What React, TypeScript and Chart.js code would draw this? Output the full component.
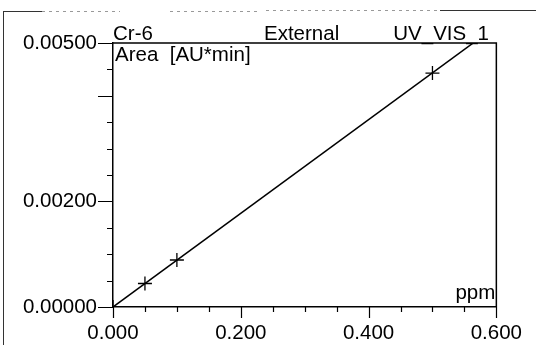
import React, { useEffect, useRef } from "react";
import { Chart, registerables } from "chart.js";

Chart.register(...registerables);

// Data
const concentrations = [0, 0.05, 0.1, 0.5]; // ppm
const areas = [0, 0.000445, 0.00089, 0.00443]; // AU*min
const fitSlope = 0.00887; // calibration line through origin
const fitX = [0, 0.6];

const xLabelValues = [0, 0.2, 0.4, 0.6];
const yLabelValues = [0, 0.002, 0.005];
const xLongTicks = [0, 0.2, 0.4, 0.6];
const yLongTicks = [0, 0.002, 0.004, 0.005];

const titleLeft = "Cr-6";
const titleMid = "External";
const titleRight = "UV_VIS_1";
const yTitle = "Area  [AU*min]";
const xTitle = "ppm";

const FONT = '"Liberation Sans", Arial, sans-serif';
const FSIZE = 20.5;

const near = (a: number, list: number[]) => list.some((v) => Math.abs(v - a) < 1e-9);

const decorPlugin = {
  id: "decor",
  afterDraw(chart: any) {
    const ctx = chart.ctx;
    const { left, right, top, bottom } = chart.chartArea;
    const xs = chart.scales.x;
    const ys = chart.scales.y;
    ctx.save();
    ctx.strokeStyle = "#000";
    ctx.lineWidth = 1.5;
    // plot box top & right
    ctx.beginPath();
    ctx.moveTo(left, top);
    ctx.lineTo(right, top);
    ctx.lineTo(right, bottom);
    ctx.stroke();
    // ticks
    ctx.lineWidth = 1.2;
    ctx.beginPath();
    xs.ticks.forEach((t: any) => {
      const px = Math.round(xs.getPixelForValue(t.value)) + 0.5;
      const len = near(t.value, xLongTicks) ? 11 : 5;
      ctx.moveTo(px, bottom);
      ctx.lineTo(px, bottom + len);
    });
    ys.ticks.forEach((t: any) => {
      const py = Math.round(ys.getPixelForValue(t.value)) + 0.5;
      const len = near(t.value, yLongTicks) ? 15 : 6;
      ctx.moveTo(left, py);
      ctx.lineTo(left - len, py);
    });
    ctx.stroke();
    // outer scan frame
    ctx.strokeStyle = "#333";
    ctx.lineWidth = 1;
    ctx.beginPath();
    ctx.moveTo(3.5, 12);
    ctx.lineTo(3.5, 345);
    ctx.moveTo(3, 11.5);
    ctx.lineTo(42, 11.5);
    ctx.moveTo(440, 10.5);
    ctx.lineTo(536, 10.5);
    ctx.stroke();
    ctx.strokeStyle = "#999";
    ctx.setLineDash([3, 4]);
    ctx.beginPath();
    ctx.moveTo(42, 11.5);
    ctx.lineTo(120, 11.5);
    ctx.moveTo(170, 11.5);
    ctx.lineTo(260, 11.5);
    ctx.moveTo(266, 10.5);
    ctx.lineTo(440, 10.5);
    ctx.stroke();
    ctx.setLineDash([]);
    // texts
    ctx.fillStyle = "#000";
    ctx.font = `${FSIZE}px ${FONT}`;
    ctx.textBaseline = "alphabetic";
    ctx.textAlign = "left";
    ctx.fillText(titleLeft, left, 39.5);
    ctx.fillText(titleMid, 264, 39.5);
    ctx.textAlign = "right";
    ctx.fillText(titleRight, 489, 39.5);
    ctx.textAlign = "left";
    ctx.fillText(yTitle, left + 2, 61);
    ctx.textAlign = "right";
    ctx.fillText(xTitle, right - 1, 299);
    ctx.restore();
  },
};

export default function App() {
  const ref = useRef<HTMLCanvasElement>(null);
  useEffect(() => {
    document.body.style.margin = "0";
    const chart = new Chart(ref.current as HTMLCanvasElement, {
      type: "scatter",
      data: {
        datasets: [
          {
            label: "fit",
            data: fitX.map((x) => ({ x, y: fitSlope * x })),
            showLine: true,
            borderColor: "#000",
            borderWidth: 1.5,
            pointRadius: 0,
            clip: 0,
          } as any,
          {
            label: "standards",
            data: concentrations.map((x, i) => ({ x, y: areas[i] })),
            pointStyle: "cross",
            pointRadius: 7,
            borderColor: "#000",
            backgroundColor: "#000",
            borderWidth: 1.3,
            clip: 0,
          } as any,
        ],
      },
      options: {
        animation: false,
        responsive: false,
        layout: { padding: { top: 43, right: 39, left: 0, bottom: 0 } },
        plugins: { legend: { display: false }, tooltip: { enabled: false } },
        scales: {
          x: {
            type: "linear",
            min: 0,
            max: 0.6,
            grid: { display: false, drawTicks: false },
            border: { display: true, color: "#000", width: 1.5 },
            ticks: {
              stepSize: 0.05,
              autoSkip: false,
              maxRotation: 0,
              padding: 14,
              color: "#000",
              font: { family: FONT, size: FSIZE },
              callback: (v: any) => (near(Number(v), xLabelValues) ? Number(v).toFixed(3) : ""),
            },
            afterFit: (s: any) => {
              s.height = 38;
            },
          },
          y: {
            type: "linear",
            min: 0,
            max: 0.005,
            grid: { display: false, drawTicks: false },
            border: { display: true, color: "#000", width: 1.5 },
            ticks: {
              stepSize: 0.0005,
              autoSkip: false,
              padding: 16,
              color: "#000",
              font: { family: FONT, size: FSIZE },
              callback: (v: any) => (near(Number(v), yLabelValues) ? Number(v).toFixed(5) : ""),
            },
            afterFit: (s: any) => {
              s.width = 113;
            },
          },
        },
      },
      plugins: [decorPlugin],
    });
    return () => chart.destroy();
  }, []);
  return (
    <div style={{ position: "fixed", left: 0, top: 0, width: 536, height: 345, background: "#fff" }}>
      <canvas ref={ref} width={536} height={345} style={{ width: 536, height: 345 }} />
    </div>
  );
}
